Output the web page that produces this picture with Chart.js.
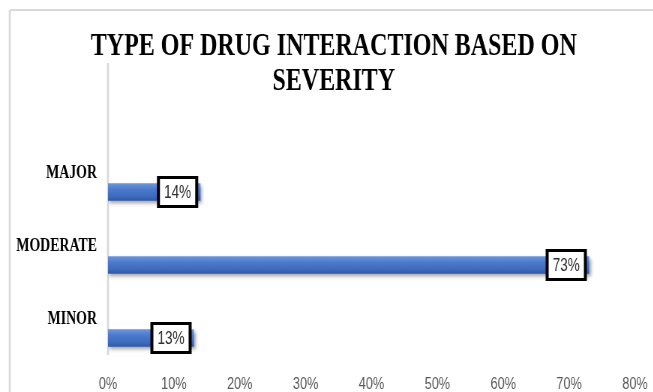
<!DOCTYPE html>
<html>
<head>
<meta charset="utf-8">
<title>Type of drug interaction based on severity</title>
<script src="https://cdn.jsdelivr.net/npm/chart.js@4/dist/chart.umd.min.js"></script>
<style>
  html, body { margin: 0; padding: 0; background: #fff; overflow: hidden; }
  #wrap { width: 653px; height: 392px; overflow: hidden; position: relative; }
  #c { position: absolute; left: 0; top: 0; transform-origin: 0 0; }
</style>
</head>
<body>
<div id="wrap"><canvas id="c"></canvas></div>
<script>
// ---- data ----
const categories = ['MAJOR', 'MODERATE', 'MINOR'];
const percentages = [14, 73, 13];
const xTickValues = [0, 10, 20, 30, 40, 50, 60, 70, 80];
const titleLines = ['TYPE OF DRUG INTERACTION BASED ON', 'SEVERITY'];

// The figure uses narrow lettering: draw on a wider canvas and squeeze it horizontally.
const SQUEEZE = 0.75;
const VIEW_W = 653, VIEW_H = 392;
const CANVAS_W = Math.round(VIEW_W / SQUEEZE);

const canvas = document.getElementById('c');
canvas.width = CANVAS_W;
canvas.height = VIEW_H;
canvas.style.width = CANVAS_W + 'px';
canvas.style.height = VIEW_H + 'px';
canvas.style.transform = 'scaleX(' + SQUEEZE + ')';

const BAR_THICKNESS = 17;
const GRID_GREY = '#d9d9d9';
const PLOT_LEFT = 144;      // x position of the value axis origin
const SIDE_PAD = 19;        // outer left padding

// Outer frame (left and top edges visible) drawn behind everything.
const framePlugin = {
  id: 'frame',
  beforeDraw(chart) {
    const c = chart.ctx;
    c.save();
    c.fillStyle = '#ffffff';
    c.fillRect(0, 0, chart.width, chart.height);
    c.strokeStyle = GRID_GREY;
    c.lineWidth = 2.6;
    c.beginPath();
    c.moveTo(13, 10);
    c.lineTo(13, chart.height + 5);
    c.stroke();
    c.lineWidth = 2;
    c.beginPath();
    c.moveTo(13, 10);
    c.lineTo(chart.width + 5, 10);
    c.stroke();
    c.restore();
  }
};

// Vertical category-axis line, spanning the whole plot region.
const axisLinePlugin = {
  id: 'axisLine',
  beforeDatasetsDraw(chart) {
    const c = chart.ctx;
    const x = chart.scales.x.getPixelForValue(0);
    c.save();
    c.strokeStyle = GRID_GREY;
    c.lineWidth = 2.7;
    c.beginPath();
    c.moveTo(x, 63);
    c.lineTo(x, 355);
    c.stroke();
    c.restore();
  }
};

// Soft drop shadow under the bars.
const shadowPlugin = {
  id: 'barShadow',
  beforeDatasetsDraw(chart) {
    const c = chart.ctx;
    c.save();
    c.shadowColor = 'rgba(0,0,0,0.38)';
    c.shadowBlur = 4;
    c.shadowOffsetX = 2;
    c.shadowOffsetY = 2.5;
  },
  afterDatasetsDraw(chart) {
    chart.ctx.restore();
  }
};

// Boxed value labels at the inner end of each bar.
const valueBoxPlugin = {
  id: 'valueBoxes',
  afterDatasetsDraw(chart) {
    const c = chart.ctx;
    const meta = chart.getDatasetMeta(0);
    const data = chart.data.datasets[0].data;
    const boxW = 55, boxH = 32, bx = 4, by = 3;
    c.save();
    c.font = '18px "Liberation Sans", Arial, sans-serif';
    c.textAlign = 'center';
    c.textBaseline = 'middle';
    meta.data.forEach((bar, i) => {
      const right = bar.x - 2.7;
      const left = right - boxW;
      const top = bar.y - boxH / 2;
      c.fillStyle = '#000000';
      c.fillRect(left, top, boxW, boxH);
      c.fillStyle = '#ffffff';
      c.fillRect(left + bx, top + by, boxW - 2 * bx, boxH - 2 * by);
      c.fillStyle = '#303030';
      c.fillText(data[i] + '%', left + boxW / 2, bar.y + 1);
    });
    c.restore();
  }
};

function barFill(ctx) {
  const chart = ctx.chart;
  const yScale = chart.scales.y;
  if (!chart.chartArea || !yScale || ctx.type !== 'data') return '#4472c4';
  const cy = yScale.getPixelForValue(ctx.dataIndex);
  if (!isFinite(cy)) return '#4472c4';
  const h = BAR_THICKNESS / 2;
  const g = chart.ctx.createLinearGradient(0, cy - h, 0, cy + h);
  g.addColorStop(0, '#6b95de');
  g.addColorStop(0.35, '#4b79cb');
  g.addColorStop(0.75, '#3f6bbd');
  g.addColorStop(1, '#2f5aa8');
  return g;
}

new Chart(canvas, {
  type: 'bar',
  data: {
    labels: categories,
    datasets: [{
      data: percentages,
      backgroundColor: barFill,
      borderWidth: 0,
      barThickness: BAR_THICKNESS
    }]
  },
  plugins: [framePlugin, axisLinePlugin, shadowPlugin, valueBoxPlugin],
  options: {
    indexAxis: 'y',
    responsive: false,
    animation: false,
    devicePixelRatio: 1,
    layout: { padding: { left: SIDE_PAD, right: 0, top: 0, bottom: 0 } },
    plugins: {
      legend: { display: false },
      tooltip: { enabled: false },
      title: {
        display: true,
        text: titleLines,
        color: '#000000',
        font: { family: '"Liberation Serif", "Times New Roman", serif', size: 32, weight: 'bold', lineHeight: 1.1 },
        padding: { top: 29, bottom: 56.1 }
      }
    },
    scales: {
      x: {
        min: 0,
        max: 80,
        afterBuildTicks(scale) { scale.ticks = xTickValues.map(v => ({ value: v })); },
        afterFit(scale) { scale.height = 17.5; scale.paddingRight = 24.3; },
        grid: { display: false, drawTicks: false },
        border: { display: false },
        ticks: {
          padding: 0,
          color: '#595959',
          font: { family: '"Liberation Sans", Arial, sans-serif', size: 17 },
          callback: v => v + '%'
        }
      },
      y: {
        afterFit(scale) {
          scale.width = PLOT_LEFT - SIDE_PAD;
          scale.paddingTop = 0;
          scale.paddingBottom = 0;
        },
        grid: { display: false, drawTicks: false },
        border: { display: false },
        ticks: {
          padding: 14.7,
          labelOffset: -19,
          color: '#000000',
          font: { family: '"Liberation Serif", "Times New Roman", serif', size: 18.5, weight: 'bold' }
        }
      }
    }
  }
});
</script>
</body>
</html>
